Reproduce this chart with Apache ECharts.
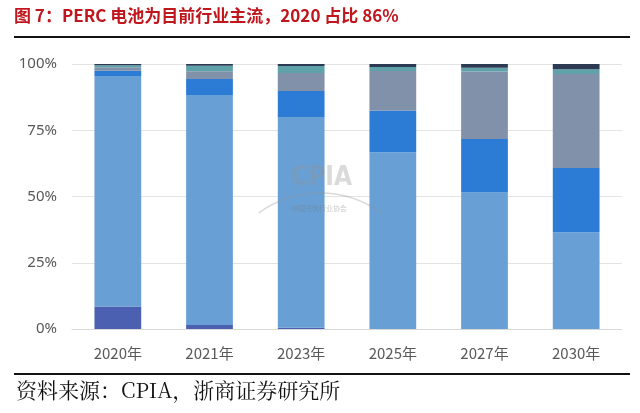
<!DOCTYPE html>
<html><head><meta charset="utf-8">
<script src="https://cdn.jsdelivr.net/npm/echarts@6/dist/echarts.min.js"></script>
<style>html,body{margin:0;padding:0;background:#fff}#c{width:640px;height:413px}</style>
</head><body><div id="c"></div>
<script>
const categories = ['2020年','2021年','2023年','2025年','2027年','2030年'];
const bsf    = [8.5, 1.5, 0.5, 0, 0, 0];
const perc   = [87.0, 86.8, 79.5, 66.7, 51.5, 36.5];
const topcon = [2.0, 6.0, 9.8, 15.8, 20.2, 24.3];
const hjt    = [1.3, 3.0, 6.8, 14.9, 25.5, 35.4];
const ibc    = [0.7, 2.0, 2.6, 1.5, 1.4, 1.8];
const other  = [0.5, 0.7, 0.8, 1.1, 1.4, 2.0];
const yTicks = [0, 25, 50, 75, 100];

const seriesDefs = [
  ['BSF', bsf, '#4b60b0'],
  ['PERC', perc, '#689fd5'],
  ['TOPCon', topcon, '#2c7bd5'],
  ['HJT', hjt, '#8291aa'],
  ['IBC', ibc, '#5fa2aa'],
  ['其他', other, '#2c3a52']
];

const chart = echarts.init(document.getElementById('c'));
chart.setOption({
  animation: false,
  grid: {left: 72, right: 18, top: 64, bottom: 84},
  xAxis: {
    type: 'category', data: categories,
    axisLine: {lineStyle: {color: '#d9d9d9'}},
    axisTick: {show: false},
    axisLabel: {color: '#595959', fontSize: 15, margin: 17, fontFamily: 'Noto Sans CJK SC'}
  },
  yAxis: {
    type: 'value', min: 0, max: 100, interval: 25,
    axisLine: {show: false}, axisTick: {show: false},
    splitLine: {lineStyle: {color: '#e3e3e3'}},
    axisLabel: {color: '#595959', fontSize: 15, margin: 15, fontFamily: 'Noto Sans',
      formatter: v => yTicks.includes(v) ? v + '%' : ''}
  },
  series: seriesDefs.map(([name, data, color]) => ({
    name, type: 'bar', stack: 'total', data, barWidth: '51%',
    itemStyle: {color}
  })),
  graphic: [
    {type: 'text', left: 14, top: 7, style: {text: '图 7：PERC 电池为目前行业主流，2020 占比 86%', fill: '#c0161e', font: 'bold 17px "Noto Sans CJK SC"'}},
    {type: 'rect', shape: {x: 14, y: 36, width: 616, height: 2}, style: {fill: '#111'}},
    {type: 'rect', shape: {x: 14, y: 373, width: 616, height: 2}, style: {fill: '#111'}},
    {type: 'text', left: 16, top: 380, style: {text: '资料来源：CPIA，浙商证券研究所', fill: '#111', font: '21px "Noto Serif CJK SC", "Liberation Serif", "Noto Sans CJK SC", serif'}},
    {type: 'text', left: 291, top: 165, z: 100, style: {text: 'CPIA', fill: 'rgba(150,150,150,0.35)', font: 'bold 26px "Liberation Sans Narrow", "DejaVu Sans Condensed", sans-serif'}},
    {type: 'arc', z: 100, shape: {cx: 320, cy: 297, r: 104, startAngle: Math.PI*1.3, endAngle: Math.PI*1.7}, style: {stroke: 'rgba(150,150,150,0.35)', lineWidth: 1.5, fill: null}},
    {type: 'text', left: 291, top: 205, z: 100, style: {text: '中国光伏行业协会', fill: 'rgba(120,120,120,0.4)', font: '7px "Noto Sans CJK SC"'}}
  ]
});
</script></body></html>
